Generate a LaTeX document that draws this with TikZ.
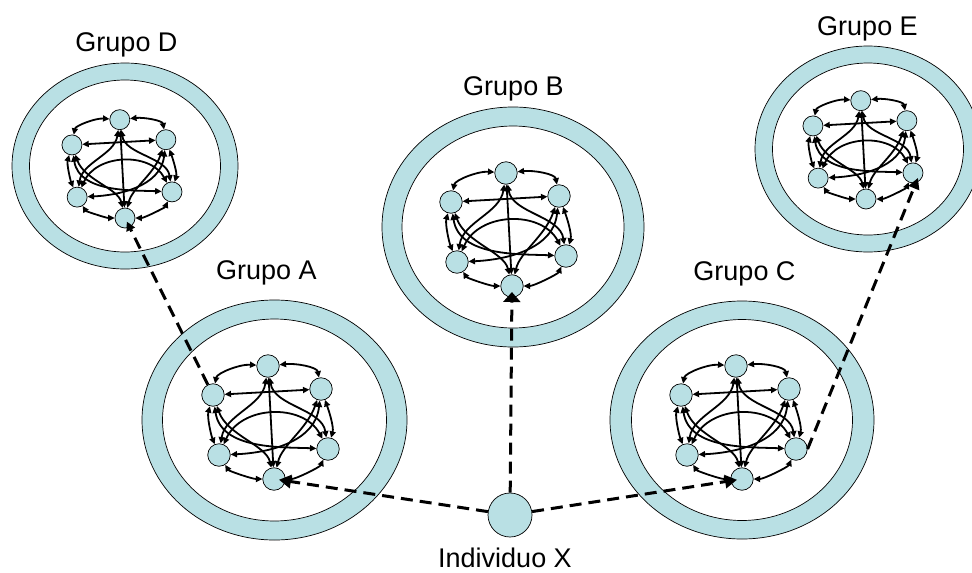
\documentclass[tikz,border=0pt]{standalone}
\usepackage{fontspec}
\setmainfont{Liberation Sans}
\usetikzlibrary{arrows.meta}
\definecolor{ringc}{RGB}{185,224,228}
\begin{document}
\begin{tikzpicture}[x=1pt,y=-1pt,
  ringline/.style={line width=0.7pt},
  nd/.style={circle, draw, line width=0.7pt, fill=ringc, inner sep=0pt},
  edge/.style={line width=1.8pt, {Triangle[length=6.5pt,width=6pt]}-{Triangle[length=6.5pt,width=6pt]}},
  dashline/.style={line width=3pt, dash pattern=on 12pt off 7pt},
  lbl/.style={font=\fontsize{27}{32}\selectfont, inner sep=0pt, anchor=base},
  net/.pic={
    \node[nd, minimum size=#1] (-T)  at (-6,-113) {};
    \node[nd, minimum size=#1] (-L)  at (-61,-84) {};
    \node[nd, minimum size=#1] (-R)  at (47,-90) {};
    \node[nd, minimum size=#1] (-LL) at (-55,-24) {};
    \node[nd, minimum size=#1] (-LR) at (54,-30) {};
    \node[nd, minimum size=#1] (-B)  at (0,0) {};
    \draw[edge] (-T) .. controls +(-28,-2) and +(4,-22) .. (-L);
    \draw[edge] (-T) .. controls +(28,-3) and +(-4,-22) .. (-R);
    \draw[edge] (-L) -- (-R);
    \draw[edge] (-L) .. controls +(-6,22) and +(-8,-20) .. (-LL);
    \draw[edge] (-R) .. controls +(8,22) and +(6,-22) .. (-LR);
    \draw[edge] (-LL) .. controls +(10,16) and +(-22,0) .. (-B);
    \draw[edge] (-LR) .. controls +(-8,18) and +(22,0) .. (-B);
    \draw[edge] (-T) -- (-B);
    \draw[edge] (-T) .. controls +(-6,40) and +(6,-40) .. (-LL);
    \draw[edge] (-T) .. controls +(6,40) and +(-6,-40) .. (-LR);
    \draw[edge] (-L) .. controls +(14,40) and +(-8,-34) .. (-B);
    \draw[edge] (-R) .. controls +(-14,40) and +(8,-34) .. (-B);
    \draw[edge] (-L) .. controls +(8,55) and +(-45,-2) .. (-LR);
    \draw[edge] (-R) .. controls +(-6,55) and +(45,-2) .. (-LL);
    \draw[edge] (-LL) .. controls +(22,-50) and +(-25,-46) .. (-LR);
  }]
\useasboundingbox (0,0) rectangle (972,573);

% rings
\draw[ringline, fill=ringc] (274.5,420) ellipse [x radius=132.5, y radius=120];
\draw[ringline, fill=white] (274.5,420) ellipse [x radius=112, y radius=101];
\draw[ringline, fill=ringc] (513,227) ellipse [x radius=131, y radius=120];
\draw[ringline, fill=white] (513,227) ellipse [x radius=111, y radius=101];
\draw[ringline, fill=ringc] (742,420) ellipse [x radius=132, y radius=119];
\draw[ringline, fill=white] (742,420) ellipse [x radius=110.5, y radius=100.5];
\draw[ringline, fill=ringc] (125,166) ellipse [x radius=113, y radius=103];
\draw[ringline, fill=white] (125,166) ellipse [x radius=95.5, y radius=86];
\draw[ringline, fill=ringc] (868,149) ellipse [x radius=113, y radius=103];
\draw[ringline, fill=white] (868,149) ellipse [x radius=95.5, y radius=86];

% networks
\pic (A) at (274,479) {net=22.5pt};
\pic (B) at (512,286) {net=22.5pt};
\pic (C) at (742,479) {net=22.5pt};
\pic[scale=0.87] (D) at (125,218) {net=20pt};
\pic[scale=0.87] (E) at (866,199) {net=20pt};

% individual
\node[nd, minimum size=44pt] (X) at (510,515) {};

% labels
\node[lbl] (lD) at (126.5,51.7) {Grupo D};
\node[lbl] (lE) at (867.5,35) {Grupo E};
\node[lbl] (lB) at (513.5,95) {Grupo B};
\node[lbl] (lA) at (266.5,279) {Grupo A};
\node[lbl] (lC) at (744.5,280) {Grupo C};
\node[lbl] (lX) at (505,567) {Individuo X};

% dashed connectors
\draw[dashline, -{Triangle[length=12pt,width=13pt]}, shorten >=5pt] (X) -- (A-B.center);
\draw[dashline, -{Triangle[length=12pt,width=13pt]}, shorten >=5pt] (X) -- (C-B.center);
\draw[dashline, -{Triangle[length=10pt,width=17pt]}, shorten >=6pt] (X) -- (B-B.center);
\draw[dashline, -{Triangle[length=9pt,width=9pt]}, shorten >=4pt] (A-L) -- (D-B.center);
\draw[dashline, -{Triangle[length=11pt,width=11pt]}] (C-LR.east) -- ([shift={(5pt,-5pt)}]E-LR.center);
\end{tikzpicture}
\end{document}
